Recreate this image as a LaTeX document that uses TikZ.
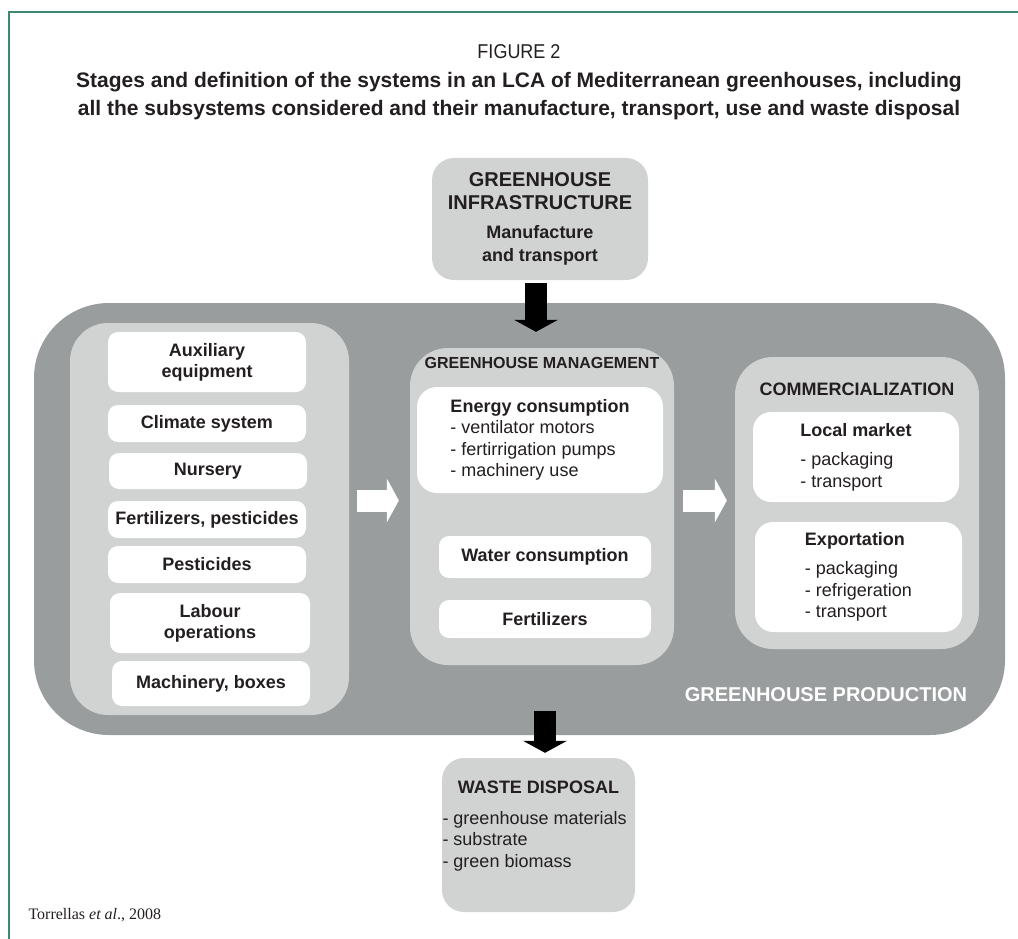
\documentclass[tikz,border=0pt]{standalone}
\usepackage{fontspec}
\setmainfont{Liberation Sans}
\newfontfamily\citefont{Liberation Serif}
\newfontfamily\capsfont[FakeStretch=0.9]{Liberation Sans}
\usepackage{tikz}
\usetikzlibrary{arrows.meta,positioning}
\usepackage{xcolor}
\definecolor{ink}{RGB}{35,31,32}
\definecolor{prodgrey}{RGB}{154,157,158}
\definecolor{palegrey}{RGB}{209,211,211}
\definecolor{framegreen}{RGB}{62,135,112}

\begin{document}
\begin{tikzpicture}[x=1pt, y=-1pt,
  wbox/.style={rectangle, fill=white, rounded corners=10pt, text=ink,
               align=center, inner sep=1pt,
               font=\fontsize{18}{21}\selectfont\bfseries},
  listbox/.style={wbox, rounded corners=20pt, align=left,
                  font=\fontsize{18}{21.5}\selectfont},
  group/.style={rectangle, fill=palegrey, rounded corners=38pt},
  grouptitle/.style={text=ink, inner sep=0pt,
                     font=\fontsize{16}{19}\selectfont\bfseries},
  blockarrow/.style={line width=22pt,
                     -{Triangle[length=12pt, width=44pt, line width=0pt]}}
]
  \useasboundingbox (0,0) rectangle (1018,939);

  % Frame and caption
  \draw[framegreen, line width=2pt] (9,939) -- (9,12) -- (1018,12);
  \node[text=ink, font=\capsfont\fontsize{20}{24}\selectfont] (fig) at (519,52) {FIGURE 2};
  \node[text=ink, align=center, font=\fontsize{21}{28}\selectfont\bfseries] (title) at (519,96)
    {Stages and definition of the systems in an LCA of Mediterranean greenhouses, including\\
     all the subsystems considered and their manufacture, transport, use and waste disposal};

  % Infrastructure
  \node[wbox, fill=palegrey, rounded corners=22pt, minimum width=216pt, minimum height=122pt,
        font=\fontsize{20}{23}\selectfont\bfseries] (infra) at (540,219)
    {GREENHOUSE\\ INFRASTRUCTURE\\[6pt]
     \fontsize{18}{23}\selectfont Manufacture\\ \fontsize{18}{23}\selectfont and transport};

  % Production and its stages
  \node[rectangle, fill=prodgrey, rounded corners=75pt, minimum width=971pt, minimum height=432pt] (prod) at (519.5,519) {};
  \node[group, minimum width=279pt, minimum height=392pt] (equip) at (209.5,519) {};
  \node[group, minimum width=264pt, minimum height=317pt] (mgmt) at (542,506.5) {};
  \node[group, minimum width=244pt, minimum height=292pt] (comm) at (857,503) {};
  \node[grouptitle, below=9pt of mgmt.north] (mgmttitle) {GREENHOUSE MANAGEMENT};
  \node[grouptitle, font=\fontsize{18}{21}\selectfont\bfseries, below=26pt of comm.north] (commtitle) {COMMERCIALIZATION};
  \node[text=white, font=\fontsize{20}{24}\selectfont\bfseries] (prodtitle) at (826,695) {GREENHOUSE PRODUCTION};

  % Equipment and inputs
  \node[wbox, minimum width=198pt, minimum height=60pt] (aux)    at (207,362)   {Auxiliary\\ equipment};
  \node[wbox, minimum width=198pt, minimum height=37pt] (clim)   at (207,423.5) {Climate system};
  \node[wbox, minimum width=198pt, minimum height=36pt] (nurs)   at (208,471)   {Nursery};
  \node[wbox, minimum width=198pt, minimum height=37pt] (fertp)  at (207,519.5) {Fertilizers, pesticides};
  \node[wbox, minimum width=198pt, minimum height=37pt] (pest)   at (207,564.5) {Pesticides};
  \node[wbox, minimum width=200pt, minimum height=60pt] (labour) at (210,623)   {Labour\\ operations};
  \node[wbox, minimum width=198pt, minimum height=45pt] (mach)   at (211,683.5) {Machinery, boxes};

  % Management
  \node[listbox, minimum width=246pt, minimum height=106pt] (energy) at (540,440)
    {\textbf{Energy consumption}\\ - ventilator motors\\ - fertirrigation pumps\\ - machinery use};
  \node[wbox, minimum width=212pt, minimum height=42pt] (water) at (545,557) {Water consumption};
  \node[wbox, minimum width=212pt, minimum height=38pt] (fertm) at (545,619) {Fertilizers};

  % Commercialization
  \node[listbox, rounded corners=18pt, minimum width=206pt, minimum height=90pt] (local) at (856,457)
    {\textbf{Local market}\\[8pt] - packaging\\ - transport};
  \node[listbox, rounded corners=18pt, minimum width=207pt, minimum height=110pt] (export) at (858.5,577)
    {\textbf{Exportation}\\[8pt] - packaging\\ - refrigeration\\ - transport};

  % Waste
  \node[wbox, fill=palegrey, rounded corners=22pt, inner xsep=0.5pt, inner ysep=2pt,
        font=\fontsize{18}{21.5}\selectfont] (waste) at (538.5,835)
    {\parbox[c][150pt][t]{192pt}{\vspace*{21pt}{\centering\bfseries WASTE DISPOSAL\par}\vspace{9pt}%
     \raggedright - greenhouse materials\\ - substrate\\ - green biomass}};

  % Source
  \node[anchor=west, text=ink, font=\citefont\fontsize{16}{18}\selectfont] (src) at (25,915)
    {Torrellas \textit{et al}., 2008};

  % Arrows
  \draw[blockarrow, black, shorten <=3pt, shorten >=16pt]
    ([xshift=-4pt]infra.south) -- ([xshift=-4pt]infra.south |- mgmt.north);
  \draw[blockarrow, black, shorten <=46pt, shorten >=5pt]
    ([xshift=3pt]mgmt.south) -- ([xshift=3pt]mgmt.south |- waste.north);
  \draw[blockarrow, white, shorten <=8pt, shorten >=11pt]
    ([yshift=6pt]mgmt.west -| equip.east) -- ([yshift=6pt]mgmt.west);
  \draw[blockarrow, white, shorten <=9pt, shorten >=8pt]
    ([yshift=6pt]mgmt.east) -- ([yshift=6pt]mgmt.east -| comm.west);
\end{tikzpicture}
\end{document}
